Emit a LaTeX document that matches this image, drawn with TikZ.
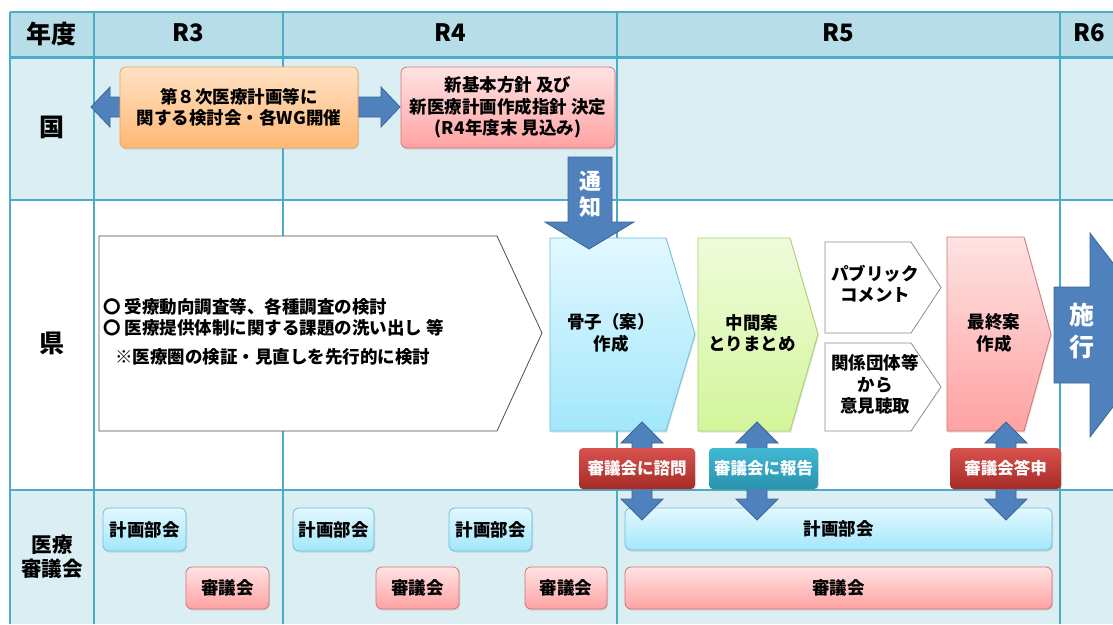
\documentclass[tikz,border=0pt]{standalone}
\usepackage{fontspec}
\setmainfont{Noto Sans CJK JP}
\usetikzlibrary{shadows}
\definecolor{hdrfill}{HTML}{B7DEE8}
\definecolor{rowfill}{HTML}{DAEEF3}
\definecolor{gridline}{HTML}{4BACC6}
\definecolor{arrfill}{HTML}{4F81BD}
\definecolor{arrdraw}{HTML}{3B6699}
\definecolor{orT}{HTML}{FFE2C4}
\definecolor{orB}{HTML}{FFB874}
\definecolor{orD}{HTML}{F5A04E}
\definecolor{pkT}{HTML}{FFE3E3}
\definecolor{pkB}{HTML}{FFA2A2}
\definecolor{pkD}{HTML}{D57373}
\definecolor{blT}{HTML}{E2F8FF}
\definecolor{blB}{HTML}{A2E7FB}
\definecolor{blD}{HTML}{6DBFD6}
\definecolor{grT}{HTML}{EFFCDC}
\definecolor{grB}{HTML}{D3F59A}
\definecolor{grD}{HTML}{A6CF6C}
\definecolor{rdT}{HTML}{D9524D}
\definecolor{rdB}{HTML}{A52B27}
\definecolor{tlT}{HTML}{40B9D3}
\definecolor{tlB}{HTML}{2A93AE}
\newcommand\VDArr[3]{%
  \filldraw[blockarr] (#1,#2) -- ({#1+21},{#2+21}) -- ({#1+10},{#2+21}) -- ({#1+10},{#3-21}) -- ({#1+21},{#3-21}) -- (#1,#3) -- ({#1-21},{#3-21}) -- ({#1-10},{#3-21}) -- ({#1-10},{#2+21}) -- ({#1-21},{#2+21}) -- cycle;}
\begin{document}
\begin{tikzpicture}[x=1pt,y=-1pt,
  txt/.style={font=\bfseries\fontsize{17.5}{21.5}\selectfont, align=center, inner sep=0pt, text=black},
  hd/.style={font=\bfseries\fontsize{24}{26}\selectfont, inner sep=0pt},
  big/.style={font=\bfseries\fontsize{25}{28}\selectfont, inner sep=0pt},
  blockarr/.style={fill=arrfill, draw=arrdraw, line width=0.8pt, line join=miter},
  shad/.style={drop shadow={opacity=0.22, shadow xshift=1pt, shadow yshift=-1.5pt}},
  rbox/.style={rounded corners=6pt, draw, line width=0.8pt, txt, shad},
  orbox/.style={rbox, top color=orT, bottom color=orB, draw=orD},
  pkbox/.style={rbox, top color=pkT, bottom color=pkB, draw=pkD},
  blbox/.style={rbox, top color=blT, bottom color=blB, draw=blD},
  lbl/.style={rounded corners=4pt, txt, text=white, font=\bfseries\fontsize{16.5}{20}\selectfont, shad, minimum height=41},
  pent/.style={line width=0.8pt}
]
\clip (0,0) rectangle (1113,624);
\fill[white] (0,0) rectangle (1113,624);
% table fills
\fill[hdrfill] (10,12) rectangle (1113,57);
\fill[rowfill] (10,57) rectangle (1113,200);
\fill[rowfill] (10,490) rectangle (1113,624);
% grid
\begin{scope}[draw=gridline, line width=1.5pt]
  \draw (10,12) -- (1113,12);
  \draw (10,200) -- (1113,200);
  \draw (10,490) -- (1113,490);
  \draw (10,12) -- (10,624);
  \draw (94,12) -- (94,624);
  \draw (283,12) -- (283,624);
  \draw (617,12) -- (617,624);
  \draw (1060,12) -- (1060,624);
  \draw[line width=3pt] (10,57) -- (1113,57);
\end{scope}
% header
\node[big] (nendo) at (52,34) {年度};
\node[hd] (r3) at (188,33) {R3};
\node[hd] (r4) at (450,33) {R4};
\node[hd] (r5) at (838,33) {R5};
\node[hd] (r6) at (1089,33) {R6};
\node[big] (kuni) at (52,127) {国};
\node[big] (ken) at (52,343) {県};
\node[hd, align=center, font=\bfseries\fontsize{20.5}{24}\selectfont] (iryo) at (52,557) {医療\\審議会};
% top row
\filldraw[blockarr] (91,107) -- (110,87) -- (110,97) -- (381,97) -- (381,87) -- (400,107) -- (381,127) -- (381,117) -- (110,117) -- (110,127) -- cycle;
\node[orbox, minimum width=238, minimum height=81] (kentou) at (239,107.5) {第８次医療計画等に\\関する検討会・各WG開催};
\node[pkbox, minimum width=214, minimum height=81] (shishin) at (508,107.5) {新基本方針 及び\\新医療計画作成指針 決定\\(R4年度末 見込み)};
% ken row pentagons
\filldraw[pent, fill=white, draw=black!70] (99,236) -- (497,236) -- (542,333) -- (497,431) -- (99,431) -- cycle;
\node[txt, anchor=west] (t1) at (103,307) {〇 受療動向調査等、各種調査の検討};
\node[txt, anchor=west] (t2) at (103,328) {〇 医療提供体制に関する課題の洗い出し 等};
\node[txt, anchor=west] (t3) at (115,357) {※医療圏の検証・見直しを先行的に検討};
\shadedraw[pent, top color=blT, bottom color=blB, draw=blD, shad] (550,238) -- (666,238) -- (695,334) -- (666,431) -- (550,431) -- cycle;
\node[txt] (kosshi) at (611,333) {骨子（案）\\作成};
\shadedraw[pent, top color=grT, bottom color=grB, draw=grD, shad] (698,238) -- (790,238) -- (818,334) -- (790,431) -- (698,431) -- cycle;
\node[txt] (chukan) at (752,333) {中間案\\とりまとめ};
\filldraw[pent, fill=white, draw=black!45] (825,242) -- (911,242) -- (941,287.5) -- (911,333) -- (825,333) -- cycle;
\node[txt] (pub) at (875,284) {パブリック\\コメント};
\filldraw[pent, fill=white, draw=black!45] (825,343) -- (911,343) -- (941,387) -- (911,431) -- (825,431) -- cycle;
\node[txt] (dantai) at (875,384.5) {関係団体等\\から\\意見聴取};
\shadedraw[pent, top color=pkT, bottom color=pkB, draw=pkD, shad] (947,237) -- (1024,237) -- (1051,334) -- (1024,431) -- (947,431) -- cycle;
\node[txt] (saishu) at (994,333) {最終案\\作成};
% tsuchi arrow
\filldraw[blockarr] (568,157) -- (612,157) -- (612,222) -- (634,222) -- (589,249) -- (545,222) -- (568,222) -- cycle;
\node[txt, text=white, font=\bfseries\fontsize{22}{26}\selectfont] (tsuchi) at (590,194) {通\\知};
% bottom row boxes
\node[blbox, minimum width=83, minimum height=43] (k1) at (144.5,529.5) {計画部会};
\node[blbox, minimum width=81, minimum height=43] (k2) at (333.5,529.5) {計画部会};
\node[blbox, minimum width=83, minimum height=43] (k3) at (490.5,529.5) {計画部会};
\node[blbox, minimum width=427, minimum height=42] (kw) at (838.5,529) {計画部会};
\node[pkbox, minimum width=83, minimum height=42] (s1) at (227.5,588) {審議会};
\node[pkbox, minimum width=83, minimum height=42] (s2) at (417.5,588) {審議会};
\node[pkbox, minimum width=82, minimum height=42] (s3) at (566,588) {審議会};
\node[pkbox, minimum width=427, minimum height=42] (sw) at (838.5,588) {審議会};
% vertical double arrows
\VDArr{642}{422}{520}
\VDArr{757}{422}{520}
\VDArr{1006}{422}{520}
% labels
\node[lbl, top color=rdT, bottom color=rdB, minimum width=116] (shimon) at (637,468.5) {審議会に諮問};
\node[lbl, top color=tlT, bottom color=tlB, minimum width=109] (hokoku) at (763.5,468.5) {審議会に報告};
\node[lbl, top color=rdT, bottom color=rdB, minimum width=111] (toshin) at (1005.5,468.5) {審議会答申};
% sekou arrow
\filldraw[blockarr] (1054,287) -- (1090,287) -- (1090,233) -- (1168,335) -- (1090,437) -- (1090,383) -- (1054,383) -- cycle;
\node[txt, text=white, font=\bfseries\fontsize{25}{32}\selectfont] (sekou) at (1082,331) {施\\行};
\end{tikzpicture}
\end{document}
